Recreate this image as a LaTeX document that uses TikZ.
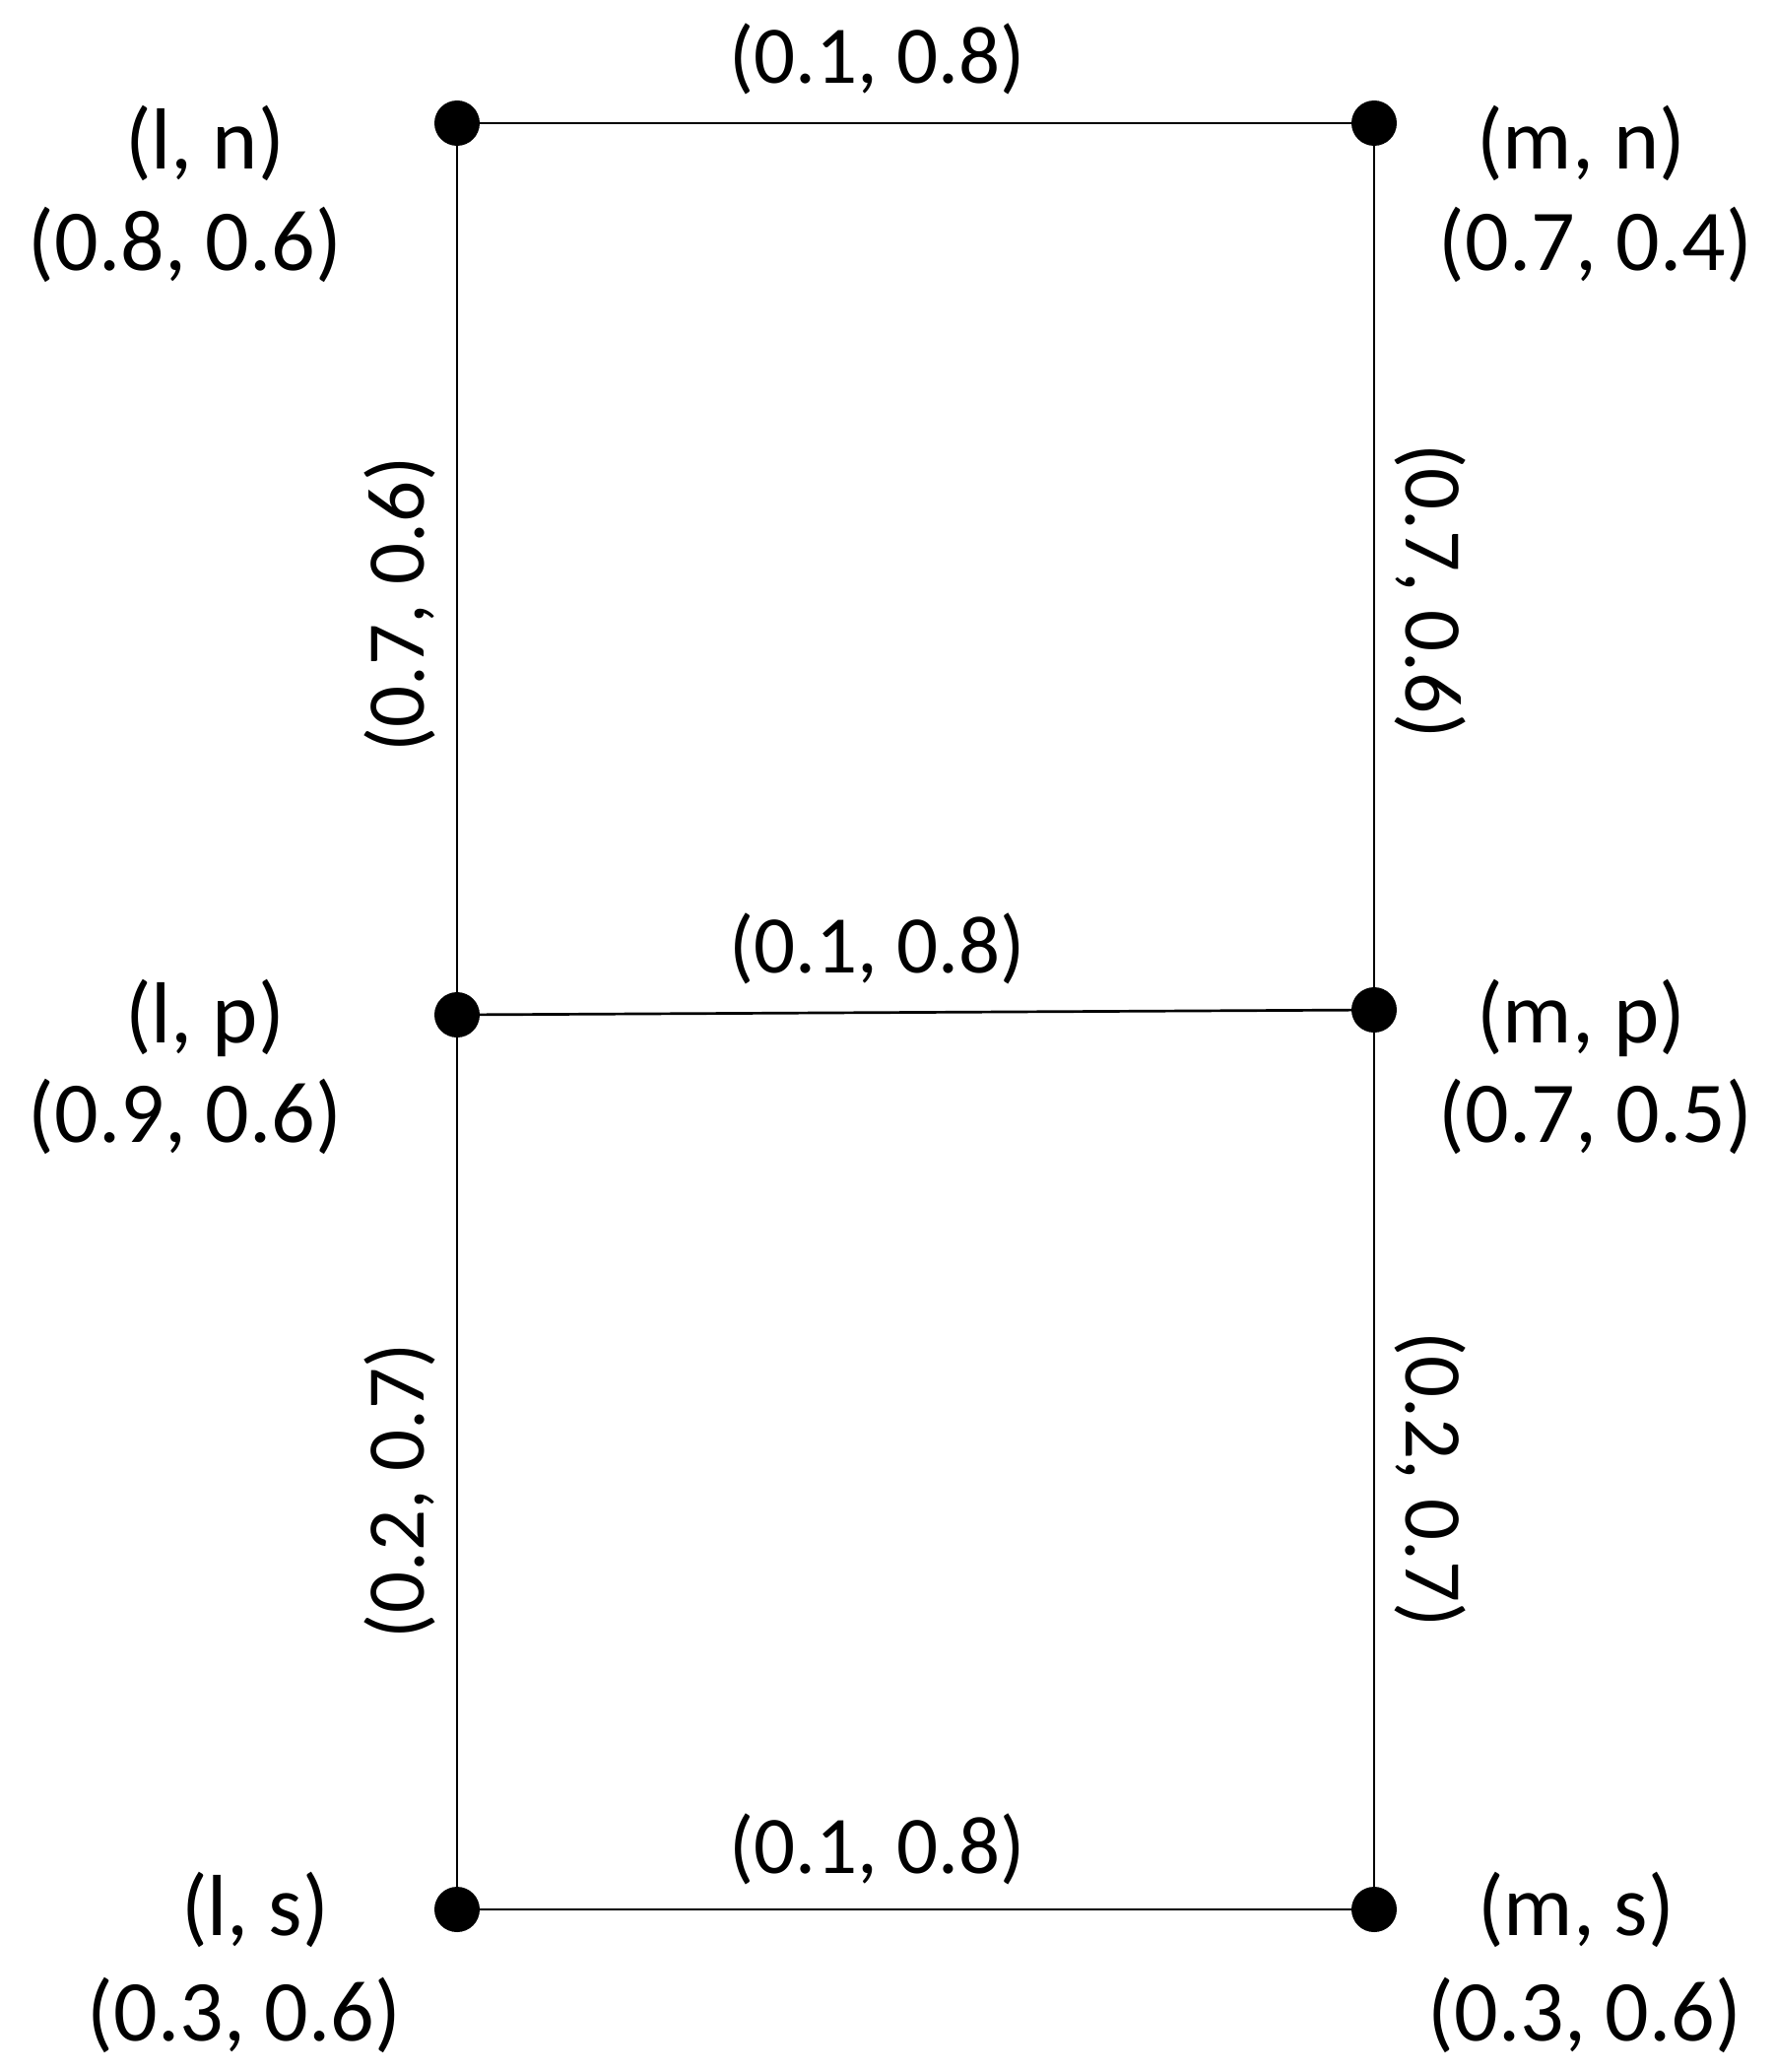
\documentclass[tikz,border=0pt]{standalone}
\usepackage{fontspec}
\setmainfont{Carlito}
\usetikzlibrary{calc}
\tikzset{
  dot/.style={circle, fill=black, inner sep=0pt, minimum size=46pt},
  edge/.style={line width=2.7pt, black},
  lbl/.style={inner sep=0pt, font=\fontsize{88}{100}\selectfont},
  elbl/.style={inner sep=0pt, font=\fontsize{83}{96}\selectfont}
}
\begin{document}
\begin{tikzpicture}[x=1pt, y=-1pt]
\useasboundingbox (0,0) rectangle (1801,2103);
% dots
\node[dot] (ln) at (464,125) {};
\node[dot] (mn) at (1395,125) {};
\node[dot] (lp) at (464,1030) {};
\node[dot] (mp) at (1395,1025) {};
\node[dot] (ls) at (464,1938) {};
\node[dot] (ms) at (1395,1938) {};
% edges
\draw[edge] (ln) -- (mn);
\draw[edge] (lp) -- (mp);
\draw[edge] (ls) -- (ms);
\draw[edge] (ln) -- (lp);
\draw[edge] (lp) -- (ls);
\draw[edge] (mn) -- (mp);
\draw[edge] (mp) -- (ms);
% edge labels
\node[elbl] (e1) at ($(ln)!0.5!(mn)+(-39,-65)$) {(0.1, 0.8)};
\node[elbl] (e2) at ($(lp)!0.5!(mp)+(-39,-65)$) {(0.1, 0.8)};
\node[elbl] (e3) at ($(ls)!0.5!(ms)+(-39,-61)$) {(0.1, 0.8)};
\node[elbl, rotate=90] (e4) at ($(ln)!0.5!(lp)+(-58,36)$) {(0.7, 0.6)};
\node[elbl, rotate=90] (e5) at ($(lp)!0.5!(ls)+(-58,29)$) {(0.2, 0.7)};
\node[elbl, rotate=-90] (e6) at ($(mn)!0.5!(mp)+(57,25)$) {(0.7, 0.6)};
\node[elbl, rotate=-90] (e7) at ($(mp)!0.5!(ms)+(57,20)$) {(0.2, 0.7)};
% vertex labels
\node[lbl] (tln) at (208,145) {(l, n)};
\node[lbl] (vln) at (188,248) {(0.8, 0.6)};
\node[lbl] (tmn) at (1605,145) {(m, n)};
\node[lbl] (vmn) at (1620,248) {(0.7, 0.4)};
\node[lbl] (tlp) at (208,1033) {(l, p)};
\node[lbl] (vlp) at (188,1133) {(0.9, 0.6)};
\node[lbl] (tmp) at (1605,1033) {(m, p)};
\node[lbl] (vmp) at (1620,1133) {(0.7, 0.5)};
\node[lbl] (tls) at (259,1938) {(l, s)};
\node[lbl] (vls) at (248,2045) {(0.3, 0.6)};
\node[lbl] (tms) at (1600,1938) {(m, s)};
\node[lbl] (vms) at (1609,2045) {(0.3, 0.6)};
\end{tikzpicture}
\end{document}
